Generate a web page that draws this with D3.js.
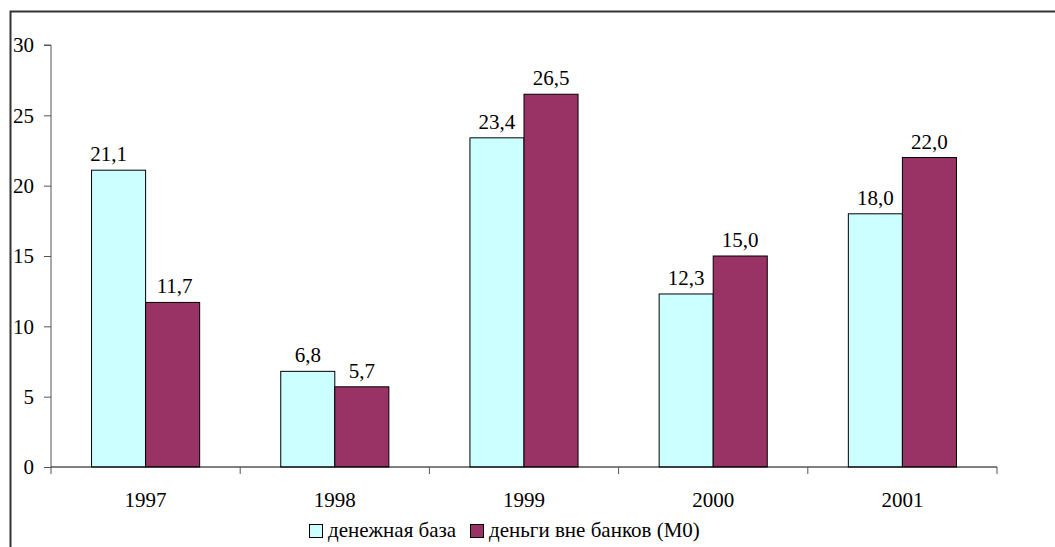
<!DOCTYPE html>
<html>
<head>
<meta charset="utf-8">
<script src="https://cdn.jsdelivr.net/npm/d3@7"></script>
<style>
html,body{margin:0;padding:0;background:#fff;}
</style>
</head>
<body>
<svg id="chart" width="1055" height="547"></svg>
<script>
const categories = ["1997", "1998", "1999", "2000", "2001"];
const seriesNames = ["денежная база", "деньги вне банков (M0)"];
const baseValues = [21.1, 6.8, 23.4, 12.3, 18.0];
const m0Values = [11.7, 5.7, 26.5, 15.0, 22.0];
const yTicks = [0, 5, 10, 15, 20, 25, 30];
const colors = ["#CCFFFF", "#993366"];

(function () {
const FONT = "Liberation Serif";
const FS = 21;
const svg = d3.select("#chart");
const pLeft = 51, pRight = 997, pTop = 45, pBottom = 467;

// outer border
svg.append("rect").attr("x", 10.5).attr("y", 11.5).attr("width", 1060).attr("height", 560)
  .attr("fill", "none").attr("stroke", "#333").attr("stroke-width", 2);

const x0 = d3.scaleBand().domain(categories).range([pLeft, pRight]).paddingInner(81/189).paddingOuter(40.5/189);
const x0b = d3.scaleBand().domain(categories).range([pLeft, pRight]);
const y = d3.scaleLinear().domain([0, 30]).range([pBottom, pTop]);
const x1 = d3.scaleBand().domain([0, 1]).range([0, x0.bandwidth()]);

const fmt = v => d3.format(".1f")(v).replace(".", ",");

// bars
const series = [baseValues, m0Values];
series.forEach((vals, si) => {
  const g = svg.append("g");
  g.selectAll("rect").data(vals).join("rect")
    .attr("x", (d, i) => x0(categories[i]) + x1(si))
    .attr("y", d => y(d))
    .attr("width", x1.bandwidth())
    .attr("height", d => y(0) - y(d))
    .attr("fill", colors[si])
    .attr("stroke", "#000").attr("stroke-width", 1);
  g.selectAll("text").data(vals).join("text")
    .attr("x", (d, i) => x0(categories[i]) + x1(si) + x1.bandwidth() / 2 - (si === 0 && i === 0 ? 10 : 0) + (si === 1 && i === 0 ? 2 : 0))
    .attr("y", d => y(d) - 9)
    .attr("text-anchor", "middle")
    .attr("font-family", FONT)
    .attr("font-size", FS)
    .attr("fill", "#000")
    .text(d => fmt(d));
});

// y axis
const yAxis = svg.append("g").attr("transform", `translate(${pLeft},0)`)
  .call(d3.axisLeft(y).tickValues(yTicks).tickSize(7).tickPadding(10).tickFormat(d3.format("d")));
yAxis.attr("font-family", FONT);
yAxis.selectAll("path,line").attr("stroke", "#555");
yAxis.select(".domain").attr("d", `M-7,${pTop}H0V${pBottom}`);
yAxis.selectAll("text").attr("font-family", FONT).attr("font-size", FS).attr("fill", "#000");

// x axis
const xAxis = svg.append("g").attr("transform", `translate(0,${pBottom})`)
  .call(d3.axisBottom(x0b).tickSize(0).tickPadding(25));
xAxis.attr("font-family", FONT);
xAxis.select(".domain").attr("stroke", "#000").attr("d", `M${pLeft},0H${pRight}`);
xAxis.selectAll("text").attr("font-family", FONT).attr("font-size", FS).attr("fill", "#000");
const boundaries = categories.map(c => x0b(c)).concat([pRight]);
xAxis.selectAll(".bnd").data(boundaries).join("line").attr("class", "bnd")
  .attr("x1", d => d).attr("x2", d => d).attr("y1", 0).attr("y2", 7)
  .attr("stroke", "#555");

// legend
const legend = svg.append("g");
const legendItems = [{x: 309, tx: 328}, {x: 470, tx: 489}];
seriesNames.forEach((n, i) => {
  legend.append("rect").attr("x", legendItems[i].x + 0.5).attr("y", 524.5).attr("width", 13).attr("height", 13)
    .attr("fill", colors[i]).attr("stroke", "#000");
  legend.append("text").attr("x", legendItems[i].tx).attr("y", 537)
    .attr("font-family", FONT).attr("font-size", FS).attr("fill", "#000").text(n);
});
})();
</script>
</body>
</html>
